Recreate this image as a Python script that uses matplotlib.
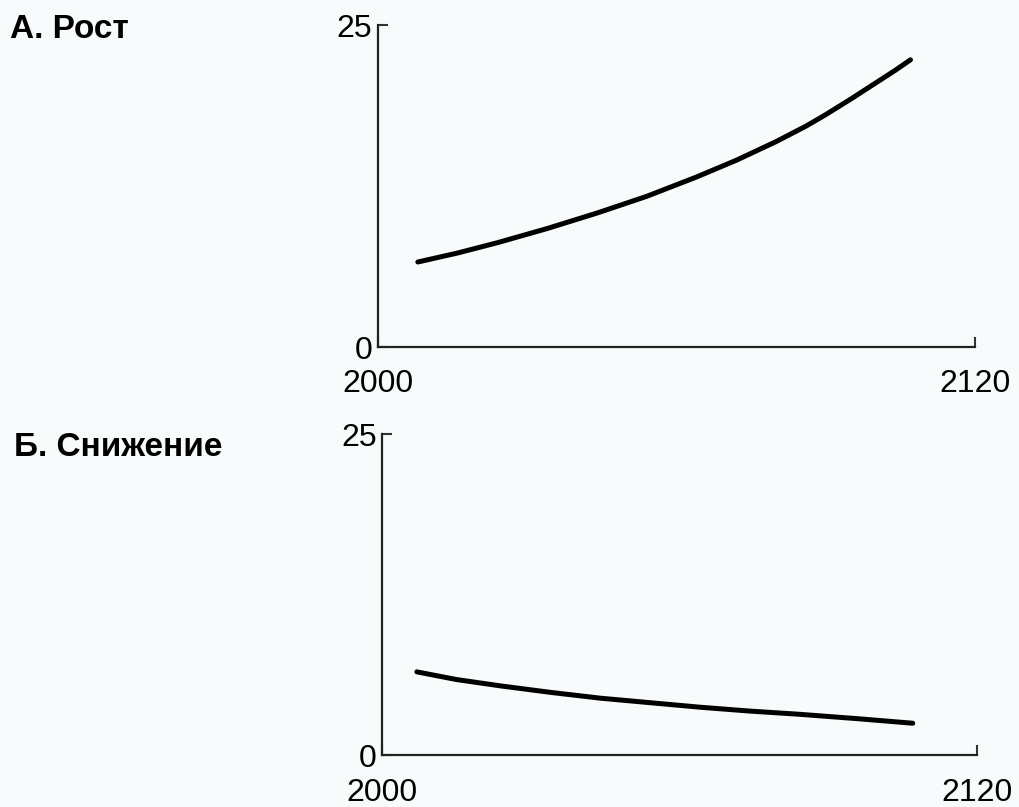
import matplotlib
matplotlib.use("Agg")
import matplotlib.pyplot as plt

plt.rcParams['font.family'] = ['Liberation Sans', 'DejaVu Sans']

# values
growth_years = [2008, 2016, 2024, 2034, 2044, 2054, 2064, 2072, 2080, 2086, 2090, 2095, 2100, 2104, 2107]
growth_vals = [6.6, 7.3, 8.1, 9.2, 10.4, 11.7, 13.2, 14.5, 15.95, 17.15, 18.05, 19.25, 20.5, 21.5, 22.3]

decline_years = [2007, 2015, 2024, 2034, 2044, 2054, 2064, 2074, 2084, 2096, 2107]
decline_vals = [6.5, 5.9, 5.4, 4.9, 4.45, 4.1, 3.75, 3.45, 3.2, 2.85, 2.5]

panel_titles = ['А. Рост', 'Б. Снижение']
x_ticks = [2000, 2120]
y_ticks = [0, 25]

bg = '#f8fbfb'
fig = plt.figure(figsize=(10.19, 8.07), dpi=100, facecolor=bg)

ax1 = fig.add_axes([0.371, 0.570, 0.586, 0.399])
ax2 = fig.add_axes([0.375, 0.064, 0.584, 0.398])

for ax, yrs, vals in [(ax1, growth_years, growth_vals), (ax2, decline_years, decline_vals)]:
    ax.set_facecolor(bg)
    ax.plot(yrs, vals, color='black', lw=3.6, solid_capstyle='round', solid_joinstyle='round')
    ax.set_xlim(2000, 2120)
    ax.set_ylim(0, 25)
    ax.set_xticks(x_ticks)
    ax.set_yticks(y_ticks)
    ax.set_xticklabels([str(t) for t in x_ticks], fontsize=23)
    ax.set_yticklabels([str(t) for t in y_ticks], fontsize=23)
    for s in ['top', 'right']:
        ax.spines[s].set_visible(False)
    for s in ['left', 'bottom']:
        ax.spines[s].set_linewidth(1.6)
        ax.spines[s].set_color('#222222')
    ax.tick_params(axis='both', direction='in', length=7, width=1.5, color='#333333')
    ax.tick_params(axis='x', pad=16)
    ax.tick_params(axis='y', pad=4)

fig.text(0.010, 0.963, panel_titles[0], fontsize=24, fontweight='bold', va='center', ha='left')
fig.text(0.014, 0.446, panel_titles[1], fontsize=24, fontweight='bold', va='center', ha='left')

fig.savefig('out.png', dpi=100, facecolor=bg)
